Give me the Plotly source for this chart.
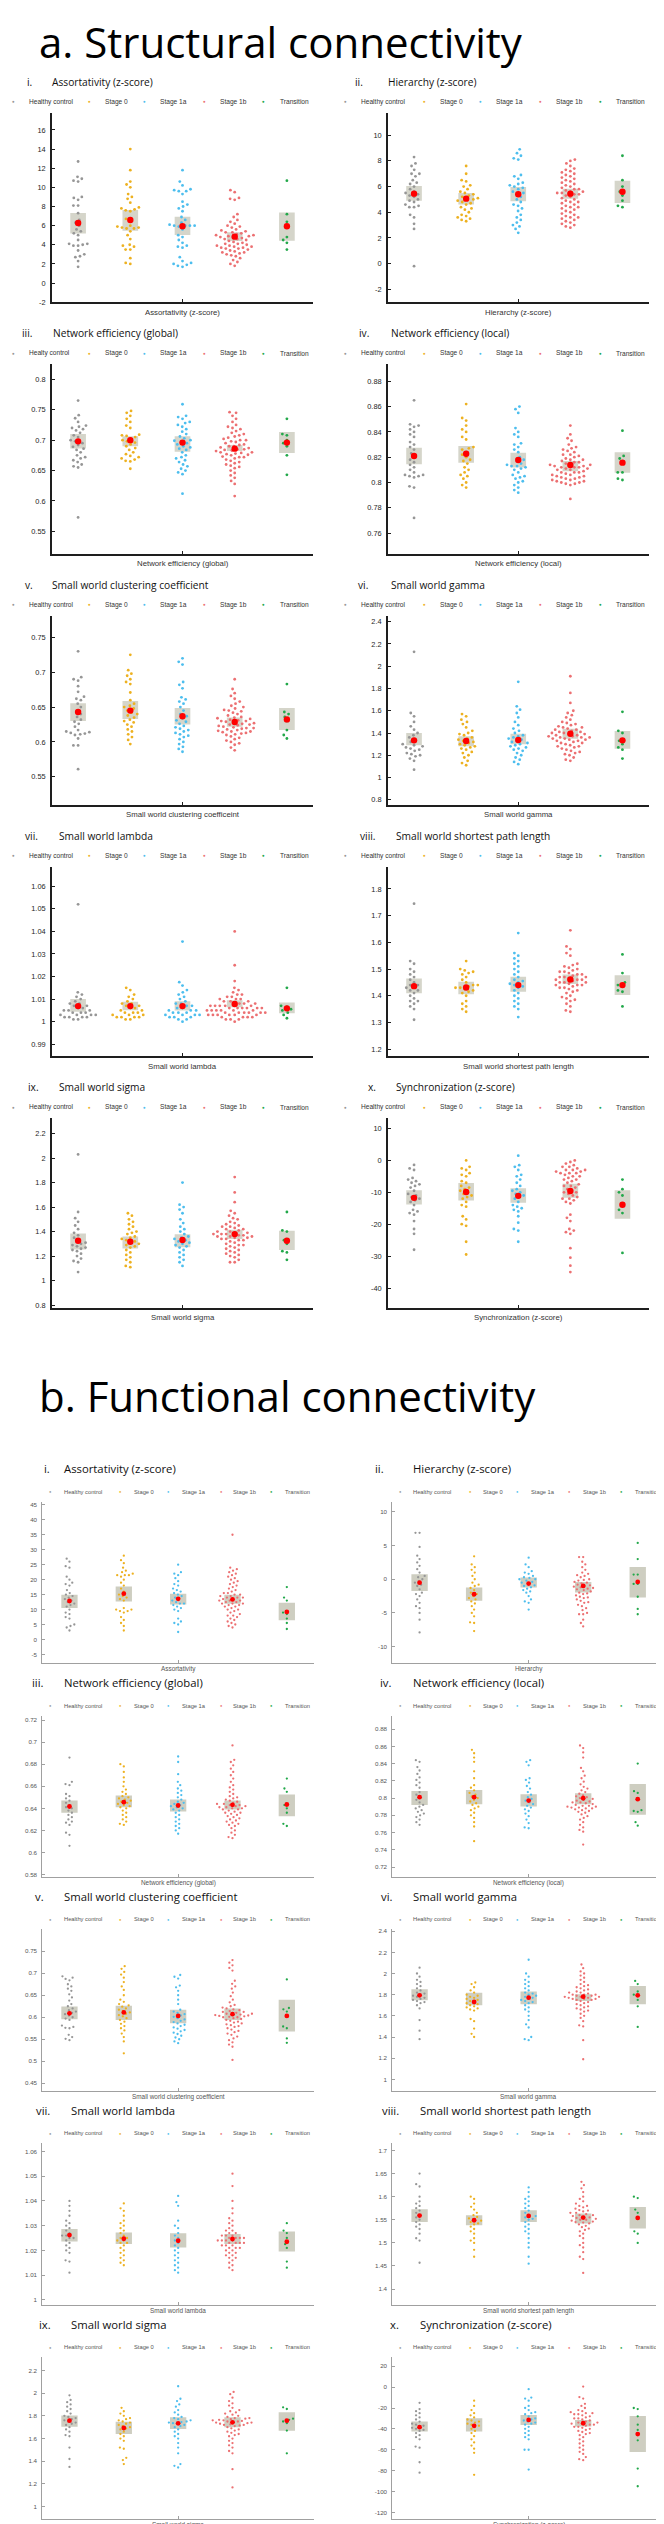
import math
import plotly.graph_objects as go

W, H = 664, 2524

GROUPS = ["Healthy control", "Stage 0", "Stage 1a", "Stage 1b", "Transition"]
GROUP_COLORS = ["#969696", "#EDB120", "#4DBEEE", "#EC7072", "#22A84A"]
GROUP_X = [1, 2, 3, 4, 5]

NUMERALS = ["i.", "ii.", "iii.", "iv.", "v.", "vi.", "vii.", "viii.", "ix.", "x."]
PANEL_TITLES = ["Assortativity (z-score)", "Hierarchy (z-score)", "Network efficiency (global)",
                "Network efficiency (local)", "Small world clustering coefficient", "Small world gamma",
                "Small world lambda", "Small world shortest path length", "Small world sigma",
                "Synchronization (z-score)"]
SC_XLABELS = ["Assortativity (z-score)", "Hierarchy (z-score)", "Network efficiency (global)",
              "Network efficiency (local)", "Small world clustering coefficeint", "Small world gamma",
              "Small world lambda", "Small world shortest path length", "Small world sigma",
              "Synchronization (z-score)"]
FC_XLABELS = ["Assortativity", "Hierarchy", "Network efficiency (global)", "Network efficiency (local)",
              "Small world clustering coefficient", "Small world gamma", "Small world lambda",
              "Small world shortest path length", "Small world sigma", "Synchronization (z-score)"]
SC_FIRST_LEGEND = ["Healthy control", "Healthy control", "Healty control", "Healthy control",
                   "Healthy control", "Healthy control", "Healthy control", "Healthy control",
                   "Healthy control", "Healthy control"]

# ---------------- Structural connectivity data ----------------
sc_assortativity = [
    [12.7, 11.1, 10.9, 10.7, 10.6, 9.0, 8.9, 8.7, 8.1, 8.1, 7.3, 6.6, 6.3, 6.0, 5.6, 5.4, 5.2, 5.0, 4.5, 4.1, 4.1, 4.0, 3.9, 3.9, 3.4, 3.0, 2.8, 2.7, 2.3, 1.7],
    [14.0, 11.8, 10.6, 10.3, 10.0, 9.3, 9.0, 8.8, 8.4, 7.9, 7.8, 7.7, 7.6, 7.5, 6.7, 6.5, 6.0, 5.9, 5.8, 5.8, 5.7, 5.7, 5.4, 5.0, 4.6, 4.0, 3.9, 3.8, 3.5, 3.5, 2.6, 2.1, 2.0],
    [11.8, 10.6, 10.2, 9.8, 9.7, 9.6, 9.6, 9.3, 8.5, 8.2, 8.0, 7.8, 7.5, 6.9, 6.6, 6.3, 6.1, 6.0, 6.0, 6.0, 6.0, 5.9, 5.6, 5.0, 4.8, 4.5, 4.2, 3.9, 3.8, 3.7, 2.7, 2.3, 2.1, 2.0, 1.9, 1.8, 1.7],
    [9.7, 9.5, 8.9, 8.8, 8.7, 7.2, 6.9, 6.6, 6.4, 6.2, 6.0, 5.9, 5.8, 5.6, 5.5, 5.4, 5.3, 5.3, 5.2, 5.1, 5.0, 5.0, 4.9, 4.9, 4.8, 4.8, 4.7, 4.6, 4.6, 4.5, 4.4, 4.3, 4.2, 4.1, 4.1, 4.0, 3.9, 3.9, 3.8, 3.8, 3.7, 3.7, 3.6, 3.6, 3.5, 3.4, 3.3, 3.2, 3.2, 3.1, 3.0, 2.9, 2.8, 2.6, 2.4, 2.2, 2.0, 1.8],
    [10.7, 7.2, 6.4, 5.8, 4.8, 4.5, 4.2, 3.5],
]
sc_hierarchy = [
    [8.3, 7.8, 7.6, 7.3, 7.0, 7.0, 6.8, 6.5, 6.3, 6.2, 6.0, 5.8, 5.6, 5.5, 5.4, 5.3, 5.2, 5.0, 4.9, 4.8, 4.6, 4.5, 4.4, 4.4, 3.8, 3.6, 3.1, 2.7, -0.2],
    [7.6, 7.0, 6.5, 6.4, 6.1, 6.0, 5.8, 5.6, 5.5, 5.4, 5.3, 5.2, 5.1, 5.0, 5.0, 4.9, 4.8, 4.7, 4.6, 4.4, 4.3, 4.2, 4.0, 3.8, 3.7, 3.6, 3.5, 3.4, 3.3],
    [8.9, 8.6, 8.4, 8.2, 8.1, 6.9, 6.8, 6.6, 6.3, 6.2, 6.1, 6.0, 5.9, 5.8, 5.6, 5.5, 5.4, 5.2, 5.0, 4.8, 4.6, 4.5, 4.3, 4.1, 3.8, 3.6, 3.4, 3.2, 3.0, 2.9, 2.7, 2.4],
    [8.1, 8.0, 7.8, 7.6, 7.4, 7.3, 7.2, 7.1, 7.0, 6.9, 6.8, 6.7, 6.6, 6.5, 6.4, 6.3, 6.2, 6.1, 6.0, 5.9, 5.8, 5.8, 5.7, 5.6, 5.6, 5.5, 5.5, 5.4, 5.4, 5.3, 5.2, 5.1, 5.0, 4.9, 4.8, 4.8, 4.7, 4.6, 4.5, 4.4, 4.4, 4.3, 4.2, 4.1, 4.0, 3.9, 3.8, 3.7, 3.6, 3.6, 3.5, 3.4, 3.3, 3.2, 3.1, 3.0, 2.9, 2.8],
    [8.4, 6.5, 6.0, 5.6, 5.3, 4.9, 4.5, 4.4],
]
sc_eff_global = [
    [0.765, 0.741, 0.736, 0.730, 0.724, 0.722, 0.720, 0.718, 0.716, 0.712, 0.708, 0.705, 0.700, 0.698, 0.695, 0.692, 0.689, 0.686, 0.684, 0.680, 0.675, 0.672, 0.670, 0.667, 0.664, 0.660, 0.657, 0.655, 0.573],
    [0.748, 0.745, 0.740, 0.735, 0.730, 0.724, 0.720, 0.709, 0.708, 0.707, 0.705, 0.703, 0.700, 0.698, 0.696, 0.693, 0.690, 0.687, 0.684, 0.680, 0.677, 0.674, 0.672, 0.670, 0.668, 0.666, 0.665, 0.653],
    [0.759, 0.740, 0.738, 0.735, 0.730, 0.728, 0.725, 0.722, 0.718, 0.714, 0.710, 0.706, 0.703, 0.700, 0.699, 0.697, 0.695, 0.693, 0.690, 0.688, 0.686, 0.684, 0.680, 0.675, 0.672, 0.670, 0.667, 0.664, 0.660, 0.657, 0.653, 0.650, 0.647, 0.644, 0.612],
    [0.746, 0.745, 0.740, 0.735, 0.730, 0.725, 0.722, 0.720, 0.718, 0.715, 0.712, 0.710, 0.708, 0.706, 0.704, 0.702, 0.700, 0.700, 0.698, 0.697, 0.695, 0.693, 0.692, 0.690, 0.690, 0.688, 0.687, 0.685, 0.685, 0.684, 0.683, 0.682, 0.680, 0.680, 0.679, 0.678, 0.677, 0.676, 0.675, 0.673, 0.672, 0.672, 0.670, 0.668, 0.666, 0.664, 0.662, 0.660, 0.658, 0.656, 0.654, 0.650, 0.646, 0.642, 0.638, 0.633, 0.628, 0.608],
    [0.735, 0.710, 0.708, 0.700, 0.695, 0.690, 0.675, 0.643],
]
sc_eff_local = [
    [0.865, 0.846, 0.845, 0.844, 0.842, 0.840, 0.838, 0.836, 0.832, 0.830, 0.828, 0.826, 0.823, 0.820, 0.818, 0.816, 0.814, 0.812, 0.810, 0.808, 0.806, 0.806, 0.805, 0.805, 0.804, 0.797, 0.796, 0.772],
    [0.862, 0.851, 0.849, 0.845, 0.842, 0.840, 0.836, 0.834, 0.828, 0.827, 0.826, 0.824, 0.822, 0.820, 0.818, 0.817, 0.815, 0.812, 0.810, 0.808, 0.806, 0.805, 0.803, 0.800, 0.798, 0.796],
    [0.860, 0.858, 0.855, 0.843, 0.840, 0.838, 0.836, 0.831, 0.830, 0.828, 0.826, 0.824, 0.820, 0.818, 0.817, 0.815, 0.814, 0.813, 0.813, 0.812, 0.811, 0.810, 0.808, 0.806, 0.805, 0.804, 0.803, 0.801, 0.800, 0.798, 0.796, 0.794, 0.792],
    [0.845, 0.838, 0.835, 0.833, 0.830, 0.828, 0.827, 0.826, 0.825, 0.824, 0.822, 0.822, 0.821, 0.820, 0.819, 0.818, 0.818, 0.817, 0.816, 0.816, 0.815, 0.814, 0.814, 0.814, 0.813, 0.813, 0.812, 0.812, 0.812, 0.811, 0.811, 0.810, 0.810, 0.809, 0.808, 0.808, 0.808, 0.807, 0.806, 0.806, 0.805, 0.805, 0.804, 0.804, 0.803, 0.803, 0.802, 0.802, 0.801, 0.801, 0.800, 0.800, 0.799, 0.799, 0.798, 0.787],
    [0.841, 0.821, 0.819, 0.816, 0.808, 0.808, 0.803, 0.802],
]
sc_sw_clustering = [
    [0.730, 0.693, 0.690, 0.688, 0.680, 0.672, 0.665, 0.662, 0.660, 0.655, 0.650, 0.645, 0.640, 0.636, 0.632, 0.629, 0.626, 0.622, 0.617, 0.615, 0.614, 0.613, 0.612, 0.611, 0.610, 0.605, 0.595, 0.595, 0.561],
    [0.725, 0.703, 0.698, 0.695, 0.690, 0.686, 0.683, 0.671, 0.660, 0.655, 0.652, 0.650, 0.648, 0.645, 0.642, 0.640, 0.638, 0.635, 0.632, 0.630, 0.628, 0.625, 0.622, 0.618, 0.615, 0.611, 0.607, 0.603, 0.597],
    [0.720, 0.715, 0.711, 0.686, 0.682, 0.677, 0.664, 0.661, 0.658, 0.655, 0.650, 0.645, 0.640, 0.637, 0.634, 0.631, 0.629, 0.626, 0.623, 0.621, 0.619, 0.617, 0.615, 0.613, 0.611, 0.609, 0.607, 0.604, 0.600, 0.597, 0.593, 0.590, 0.586],
    [0.690, 0.676, 0.670, 0.666, 0.662, 0.658, 0.655, 0.652, 0.650, 0.648, 0.646, 0.645, 0.644, 0.642, 0.640, 0.638, 0.636, 0.635, 0.634, 0.633, 0.632, 0.631, 0.630, 0.630, 0.629, 0.628, 0.627, 0.626, 0.625, 0.625, 0.624, 0.623, 0.622, 0.621, 0.620, 0.620, 0.619, 0.618, 0.617, 0.616, 0.615, 0.615, 0.614, 0.613, 0.612, 0.611, 0.610, 0.608, 0.606, 0.604, 0.602, 0.600, 0.598, 0.596, 0.592, 0.588],
    [0.683, 0.643, 0.640, 0.636, 0.630, 0.617, 0.610, 0.605],
]
sc_sw_gamma = [
    [2.13, 1.58, 1.55, 1.50, 1.46, 1.43, 1.40, 1.38, 1.36, 1.34, 1.32, 1.30, 1.29, 1.28, 1.27, 1.26, 1.25, 1.24, 1.22, 1.21, 1.20, 1.19, 1.17, 1.15, 1.07],
    [1.57, 1.55, 1.52, 1.50, 1.48, 1.45, 1.42, 1.40, 1.39, 1.38, 1.36, 1.35, 1.34, 1.33, 1.32, 1.31, 1.30, 1.29, 1.28, 1.27, 1.26, 1.25, 1.23, 1.22, 1.20, 1.18, 1.15, 1.13, 1.11],
    [1.86, 1.64, 1.61, 1.58, 1.54, 1.50, 1.47, 1.44, 1.42, 1.40, 1.38, 1.37, 1.36, 1.35, 1.34, 1.33, 1.32, 1.31, 1.30, 1.29, 1.28, 1.27, 1.26, 1.25, 1.24, 1.22, 1.20, 1.18, 1.16, 1.14, 1.12],
    [1.91, 1.76, 1.67, 1.60, 1.58, 1.56, 1.54, 1.52, 1.50, 1.49, 1.48, 1.47, 1.46, 1.45, 1.45, 1.44, 1.43, 1.43, 1.42, 1.41, 1.41, 1.40, 1.40, 1.39, 1.39, 1.38, 1.38, 1.37, 1.37, 1.36, 1.36, 1.36, 1.35, 1.35, 1.34, 1.34, 1.33, 1.33, 1.32, 1.31, 1.31, 1.30, 1.29, 1.28, 1.28, 1.27, 1.26, 1.25, 1.24, 1.23, 1.22, 1.21, 1.20, 1.18, 1.16, 1.15],
    [1.59, 1.42, 1.40, 1.33, 1.30, 1.27, 1.25, 1.17],
]
sc_sw_lambda = [
    [1.052, 1.013, 1.012, 1.011, 1.010, 1.009, 1.008, 1.008, 1.007, 1.007, 1.006, 1.006, 1.005, 1.005, 1.005, 1.004, 1.004, 1.004, 1.003, 1.003, 1.003, 1.003, 1.002, 1.002, 1.002, 1.002, 1.001, 1.001],
    [1.015, 1.014, 1.012, 1.011, 1.010, 1.009, 1.008, 1.008, 1.007, 1.007, 1.006, 1.006, 1.005, 1.005, 1.004, 1.004, 1.004, 1.003, 1.003, 1.003, 1.002, 1.002, 1.002, 1.002, 1.001, 1.001],
    [1.0355, 1.0175, 1.016, 1.014, 1.013, 1.012, 1.011, 1.010, 1.009, 1.008, 1.008, 1.007, 1.007, 1.006, 1.006, 1.005, 1.005, 1.005, 1.004, 1.004, 1.004, 1.003, 1.003, 1.003, 1.003, 1.002, 1.002, 1.002, 1.001, 1.001, 1.000],
    [1.040, 1.025, 1.018, 1.015, 1.014, 1.013, 1.012, 1.012, 1.011, 1.011, 1.010, 1.010, 1.010, 1.009, 1.009, 1.009, 1.008, 1.008, 1.008, 1.008, 1.007, 1.007, 1.007, 1.007, 1.007, 1.006, 1.006, 1.006, 1.006, 1.006, 1.006, 1.005, 1.005, 1.005, 1.005, 1.005, 1.005, 1.004, 1.004, 1.004, 1.004, 1.004, 1.004, 1.003, 1.003, 1.003, 1.003, 1.003, 1.003, 1.002, 1.002, 1.002, 1.002, 1.001, 1.001, 1.001, 1.000],
    [1.015, 1.007, 1.0065, 1.0055, 1.005, 1.004, 1.003, 1.0015],
]
sc_sw_path = [
    [1.745, 1.53, 1.52, 1.50, 1.49, 1.48, 1.47, 1.46, 1.45, 1.44, 1.44, 1.43, 1.43, 1.42, 1.42, 1.41, 1.40, 1.39, 1.38, 1.38, 1.37, 1.36, 1.35, 1.31],
    [1.53, 1.50, 1.495, 1.49, 1.485, 1.48, 1.47, 1.46, 1.45, 1.44, 1.44, 1.435, 1.43, 1.43, 1.425, 1.42, 1.415, 1.41, 1.40, 1.38, 1.37, 1.36, 1.35, 1.34],
    [1.635, 1.56, 1.55, 1.54, 1.53, 1.52, 1.51, 1.50, 1.49, 1.48, 1.47, 1.46, 1.455, 1.45, 1.445, 1.44, 1.435, 1.43, 1.42, 1.41, 1.40, 1.39, 1.38, 1.37, 1.36, 1.35, 1.32],
    [1.645, 1.585, 1.575, 1.56, 1.55, 1.52, 1.515, 1.51, 1.505, 1.50, 1.495, 1.49, 1.49, 1.485, 1.48, 1.48, 1.475, 1.47, 1.47, 1.47, 1.465, 1.46, 1.46, 1.46, 1.455, 1.45, 1.45, 1.45, 1.445, 1.44, 1.44, 1.44, 1.435, 1.43, 1.43, 1.425, 1.42, 1.415, 1.41, 1.40, 1.395, 1.39, 1.385, 1.38, 1.37, 1.36, 1.345, 1.34],
    [1.555, 1.485, 1.45, 1.44, 1.435, 1.42, 1.415, 1.36],
]
sc_sw_sigma = [
    [2.03, 1.56, 1.51, 1.48, 1.45, 1.42, 1.39, 1.37, 1.35, 1.33, 1.31, 1.30, 1.29, 1.28, 1.27, 1.26, 1.25, 1.24, 1.22, 1.20, 1.18, 1.16, 1.15, 1.07],
    [1.55, 1.53, 1.50, 1.48, 1.46, 1.44, 1.42, 1.40, 1.39, 1.38, 1.36, 1.35, 1.34, 1.33, 1.32, 1.31, 1.30, 1.29, 1.28, 1.27, 1.25, 1.23, 1.21, 1.19, 1.17, 1.15, 1.12, 1.11],
    [1.80, 1.62, 1.60, 1.58, 1.55, 1.50, 1.47, 1.44, 1.42, 1.40, 1.38, 1.36, 1.35, 1.34, 1.33, 1.32, 1.31, 1.30, 1.29, 1.28, 1.27, 1.25, 1.23, 1.21, 1.19, 1.17, 1.15, 1.12],
    [1.845, 1.72, 1.64, 1.57, 1.55, 1.53, 1.51, 1.50, 1.48, 1.47, 1.46, 1.45, 1.44, 1.44, 1.43, 1.42, 1.42, 1.41, 1.40, 1.40, 1.39, 1.39, 1.38, 1.38, 1.38, 1.37, 1.37, 1.36, 1.36, 1.36, 1.35, 1.35, 1.34, 1.34, 1.33, 1.33, 1.32, 1.31, 1.30, 1.29, 1.29, 1.28, 1.27, 1.26, 1.25, 1.24, 1.23, 1.22, 1.21, 1.20, 1.19, 1.17, 1.15, 1.15],
    [1.56, 1.41, 1.40, 1.33, 1.30, 1.24, 1.23, 1.17],
]
sc_synchronization = [
    [-1.4, -2.5, -3.0, -5.5, -6.0, -6.5, -7.0, -7.5, -8.0, -8.5, -9.5, -10.5, -11.0, -11.5, -12.0, -12.5, -13.0, -14.0, -15.5, -16.0, -16.5, -17.0, -19.0, -21.5, -23.0, -28.0],
    [0.0, -2.0, -2.5, -3.0, -4.0, -4.5, -5.0, -6.5, -7.0, -8.0, -8.5, -9.0, -9.5, -10.0, -10.5, -11.0, -11.5, -12.0, -13.0, -14.0, -14.5, -17.5, -18.5, -20.0, -20.5, -25.5, -29.5],
    [1.5, -1.5, -2.0, -3.0, -4.5, -5.0, -6.0, -7.0, -8.0, -9.0, -9.5, -10.0, -10.5, -11.0, -11.5, -12.0, -13.0, -14.0, -14.5, -15.0, -15.5, -16.0, -17.5, -19.5, -21.5, -22.0, -25.5],
    [0.0, -0.5, -1.0, -1.5, -2.0, -2.0, -2.5, -3.0, -3.0, -3.0, -3.5, -3.5, -4.0, -4.0, -4.0, -4.5, -5.0, -5.0, -5.5, -6.0, -6.0, -6.5, -7.0, -7.5, -8.0, -8.0, -8.5, -9.0, -9.5, -10.0, -10.0, -10.5, -11.0, -11.5, -12.0, -12.0, -12.5, -13.0, -13.5, -17.0, -18.0, -19.0, -21.5, -22.0, -22.5, -23.0, -27.5, -30.5, -33.0, -35.0],
    [-6.0, -9.0, -10.0, -11.0, -13.5, -15.5, -16.5, -29.0],
]

SC_DATA = [sc_assortativity, sc_hierarchy, sc_eff_global, sc_eff_local, sc_sw_clustering,
           sc_sw_gamma, sc_sw_lambda, sc_sw_path, sc_sw_sigma, sc_synchronization]

sc_means = [
    [6.27, 6.59, 5.93, 4.85, 5.93],
    [5.45, 5.06, 5.40, 5.45, 5.60],
    [0.698, 0.700, 0.696, 0.686, 0.696],
    [0.821, 0.8227, 0.8178, 0.8139, 0.8157],
    [0.643, 0.645, 0.637, 0.6286, 0.6324],
    [1.334, 1.328, 1.337, 1.393, 1.334],
    [1.0069, 1.0069, 1.0069, 1.0078, 1.0059],
    [1.436, 1.431, 1.440, 1.461, 1.440],
    [1.3255, 1.317, 1.331, 1.3795, 1.3255],
    [-11.74, -9.88, -11.1, -9.57, -13.9],
]
sc_ci_low = [
    [5.19, 5.47, 5.02, 4.40, 4.43],
    [4.90, 4.60, 4.86, 5.06, 4.73],
    [0.6864, 0.690, 0.681, 0.682, 0.679],
    [0.8144, 0.8157, 0.8118, 0.809, 0.8078],
    [0.630, 0.633, 0.625, 0.622, 0.617],
    [1.289, 1.280, 1.298, 1.348, 1.259],
    [1.0044, 1.0051, 1.0049, 1.0064, 1.0037],
    [1.409, 1.406, 1.415, 1.444, 1.4025],
    [1.253, 1.263, 1.272, 1.3405, 1.250],
    [-13.8, -12.57, -13.3, -11.74, -18.26],
]
sc_ci_high = [
    [7.31, 7.63, 6.93, 5.30, 7.38],
    [6.04, 5.50, 5.96, 5.84, 6.45],
    [0.7103, 0.7065, 0.7065, 0.692, 0.7136],
    [0.8275, 0.8288, 0.8235, 0.817, 0.824],
    [0.6557, 0.6586, 0.6486, 0.635, 0.6486],
    [1.399, 1.370, 1.393, 1.4375, 1.417],
    [1.0100, 1.0088, 1.0091, 1.0095, 1.0085],
    [1.4646, 1.452, 1.471, 1.480, 1.477],
    [1.385, 1.361, 1.379, 1.415, 1.4065],
    [-9.36, -7.08, -8.74, -7.29, -9.36],
]
sc_yrange = [[-2, 17.8], [-3, 11.75], [0.5135, 0.825], [0.7438, 0.8936], [0.5096, 0.7814],
             [0.753, 2.456], [0.9846, 1.0686], [1.1728, 1.8827], [0.778, 2.325], [-46.2, 13.2]]
sc_yticks = [
    [-2, 0, 2, 4, 6, 8, 10, 12, 14, 16],
    [-2, 0, 2, 4, 6, 8, 10],
    [0.55, 0.6, 0.65, 0.7, 0.75, 0.8],
    [0.76, 0.78, 0.8, 0.82, 0.84, 0.86, 0.88],
    [0.55, 0.6, 0.65, 0.7, 0.75],
    [0.8, 1, 1.2, 1.4, 1.6, 1.8, 2, 2.2, 2.4],
    [0.99, 1, 1.01, 1.02, 1.03, 1.04, 1.05, 1.06],
    [1.2, 1.3, 1.4, 1.5, 1.6, 1.7, 1.8],
    [0.8, 1, 1.2, 1.4, 1.6, 1.8, 2, 2.2],
    [-40, -30, -20, -10, 0, 10],
]

# ---------------- Functional connectivity data ----------------
fc_assortativity = [
    [27.0, 26.0, 24.5, 24.0, 21.0, 20.0, 19.0, 18.5, 18.0, 16.5, 15.5, 15.0, 14.5, 14.0, 13.5, 13.0, 12.5, 12.0, 11.5, 11.0, 10.0, 9.0, 8.5, 7.5, 7.0, 5.0, 4.5, 4.0, 3.0],
    [28.0, 26.5, 25.5, 24.0, 23.0, 22.5, 22.0, 21.5, 21.5, 21.5, 21.0, 20.0, 19.0, 18.0, 17.0, 16.0, 15.0, 14.5, 14.0, 13.5, 13.0, 10.5, 10.0, 10.0, 9.5, 9.5, 9.0, 7.5, 6.5, 5.5, 4.5, 3.0],
    [25.0, 22.5, 22.0, 21.5, 20.5, 19.5, 18.5, 18.0, 17.0, 16.5, 16.0, 15.5, 15.0, 14.5, 14.0, 13.5, 13.0, 12.5, 12.0, 12.0, 11.5, 11.0, 10.5, 10.0, 9.5, 7.0, 6.0, 5.5, 5.0, 2.5],
    [35.0, 24.0, 23.5, 23.0, 22.5, 22.0, 21.5, 21.0, 20.5, 20.0, 19.5, 19.0, 18.5, 18.0, 17.5, 17.0, 16.5, 16.0, 15.5, 15.5, 15.0, 15.0, 14.5, 14.5, 14.0, 14.0, 14.0, 13.5, 13.5, 13.0, 13.0, 13.0, 12.5, 12.5, 12.0, 12.0, 12.0, 11.5, 11.5, 11.0, 11.0, 10.5, 10.0, 10.0, 9.5, 9.0, 8.5, 8.0, 8.0, 7.5, 7.0, 6.5, 6.0, 5.5, 5.0, 4.5, 4.0],
    [17.5, 14.0, 13.0, 9.0, 8.5, 7.0, 5.5, 3.5],
]
fc_hierarchy = [
    [6.9, 6.9, 4.8, 3.5, 3.0, 2.5, 2.0, 1.5, 1.0, 0.5, 0.3, 0.0, -0.3, -0.5, -0.8, -1.0, -1.5, -2.0, -2.2, -2.5, -3.0, -3.5, -4.0, -4.3, -5.0, -6.0, -7.9],
    [3.4, 2.2, 1.8, 1.4, 1.0, 0.5, 0.0, -0.5, -0.8, -1.0, -1.3, -1.6, -2.0, -2.2, -2.5, -2.8, -3.0, -3.3, -3.6, -4.0, -4.5, -5.0, -5.5, -6.4, -6.5, -7.7],
    [3.2, 2.2, 1.8, 1.2, 1.0, 0.8, 0.5, 0.3, 0.2, 0.0, 0.0, -0.2, -0.4, -0.5, -0.7, -0.9, -1.0, -1.2, -1.4, -1.6, -1.8, -2.0, -2.5, -3.0, -3.3, -3.5, -4.5],
    [3.3, 3.3, 2.6, 2.2, 1.8, 1.4, 1.0, 0.8, 0.6, 0.5, 0.3, 0.0, -0.1, -0.2, -0.4, -0.5, -0.6, -0.8, -0.9, -1.0, -1.1, -1.2, -1.3, -1.4, -1.5, -1.6, -1.8, -2.0, -2.1, -2.2, -2.4, -2.6, -2.7, -2.8, -3.0, -3.2, -3.4, -3.5, -3.8, -4.0, -4.3, -4.6, -5.0, -5.2, -5.2, -6.0, -6.5, -7.0],
    [5.4, 3.0, 0.7, 0.7, -0.7, -0.7, -2.6, -4.4, -5.2],
]
fc_eff_global = [
    [0.686, 0.664, 0.662, 0.661, 0.653, 0.651, 0.649, 0.647, 0.645, 0.643, 0.641, 0.640, 0.638, 0.636, 0.634, 0.632, 0.630, 0.628, 0.627, 0.625, 0.618, 0.616, 0.606],
    [0.680, 0.678, 0.673, 0.668, 0.664, 0.660, 0.657, 0.655, 0.653, 0.651, 0.650, 0.649, 0.648, 0.647, 0.646, 0.645, 0.644, 0.643, 0.642, 0.641, 0.640, 0.638, 0.636, 0.634, 0.632, 0.630, 0.628, 0.626, 0.625],
    [0.687, 0.682, 0.671, 0.664, 0.661, 0.658, 0.656, 0.654, 0.652, 0.650, 0.648, 0.646, 0.645, 0.644, 0.643, 0.642, 0.641, 0.640, 0.639, 0.638, 0.636, 0.634, 0.632, 0.630, 0.628, 0.626, 0.624, 0.622, 0.620, 0.617],
    [0.697, 0.684, 0.682, 0.679, 0.676, 0.673, 0.670, 0.667, 0.664, 0.661, 0.659, 0.657, 0.655, 0.653, 0.651, 0.650, 0.649, 0.648, 0.647, 0.646, 0.645, 0.644, 0.644, 0.643, 0.643, 0.642, 0.642, 0.641, 0.641, 0.640, 0.640, 0.639, 0.639, 0.638, 0.637, 0.636, 0.636, 0.635, 0.634, 0.633, 0.632, 0.631, 0.630, 0.629, 0.628, 0.627, 0.626, 0.625, 0.624, 0.622, 0.620, 0.618, 0.616, 0.614, 0.613],
    [0.667, 0.658, 0.655, 0.643, 0.640, 0.636, 0.626, 0.624],
]
fc_eff_local = [
    [0.844, 0.842, 0.836, 0.832, 0.828, 0.824, 0.821, 0.818, 0.815, 0.812, 0.807, 0.804, 0.801, 0.798, 0.795, 0.792, 0.790, 0.788, 0.786, 0.784, 0.782, 0.780, 0.778, 0.775, 0.772, 0.769],
    [0.856, 0.852, 0.847, 0.842, 0.831, 0.823, 0.815, 0.812, 0.809, 0.806, 0.804, 0.802, 0.800, 0.798, 0.796, 0.794, 0.792, 0.790, 0.788, 0.786, 0.783, 0.780, 0.777, 0.772, 0.767, 0.750],
    [0.844, 0.842, 0.838, 0.823, 0.821, 0.818, 0.814, 0.811, 0.807, 0.804, 0.801, 0.799, 0.797, 0.795, 0.793, 0.791, 0.789, 0.787, 0.785, 0.782, 0.779, 0.775, 0.771, 0.766, 0.765],
    [0.861, 0.858, 0.853, 0.847, 0.835, 0.831, 0.826, 0.823, 0.819, 0.816, 0.813, 0.811, 0.809, 0.807, 0.805, 0.803, 0.802, 0.801, 0.800, 0.799, 0.798, 0.797, 0.796, 0.795, 0.795, 0.794, 0.793, 0.792, 0.791, 0.791, 0.790, 0.790, 0.789, 0.789, 0.788, 0.788, 0.787, 0.786, 0.785, 0.784, 0.783, 0.781, 0.779, 0.777, 0.775, 0.772, 0.769, 0.766, 0.763, 0.761, 0.746],
    [0.840, 0.808, 0.806, 0.786, 0.785, 0.784, 0.772, 0.768],
]
fc_sw_clustering = [
    [0.693, 0.690, 0.687, 0.684, 0.675, 0.670, 0.665, 0.660, 0.652, 0.645, 0.638, 0.630, 0.625, 0.620, 0.616, 0.613, 0.610, 0.607, 0.604, 0.600, 0.597, 0.594, 0.581, 0.578, 0.576, 0.575, 0.560, 0.555, 0.551, 0.548],
    [0.716, 0.710, 0.703, 0.697, 0.690, 0.680, 0.670, 0.662, 0.650, 0.640, 0.635, 0.630, 0.627, 0.624, 0.620, 0.617, 0.614, 0.611, 0.608, 0.605, 0.602, 0.598, 0.594, 0.590, 0.585, 0.580, 0.575, 0.570, 0.563, 0.555, 0.545, 0.518],
    [0.696, 0.692, 0.688, 0.672, 0.668, 0.660, 0.650, 0.640, 0.630, 0.617, 0.613, 0.610, 0.607, 0.604, 0.601, 0.598, 0.595, 0.592, 0.589, 0.586, 0.583, 0.580, 0.577, 0.574, 0.571, 0.568, 0.565, 0.562, 0.558, 0.554, 0.550, 0.545, 0.541],
    [0.730, 0.724, 0.718, 0.712, 0.706, 0.683, 0.676, 0.670, 0.665, 0.656, 0.648, 0.640, 0.634, 0.628, 0.625, 0.622, 0.620, 0.618, 0.616, 0.614, 0.612, 0.612, 0.610, 0.608, 0.608, 0.607, 0.606, 0.605, 0.604, 0.603, 0.602, 0.601, 0.600, 0.600, 0.598, 0.596, 0.594, 0.592, 0.590, 0.588, 0.586, 0.584, 0.582, 0.580, 0.578, 0.575, 0.572, 0.569, 0.566, 0.563, 0.560, 0.556, 0.552, 0.548, 0.543, 0.538, 0.533, 0.503],
    [0.686, 0.621, 0.618, 0.613, 0.579, 0.575, 0.552, 0.542],
]
fc_sw_gamma = [
    [2.055, 2.00, 1.97, 1.94, 1.92, 1.90, 1.88, 1.86, 1.84, 1.82, 1.81, 1.80, 1.79, 1.78, 1.77, 1.76, 1.75, 1.74, 1.73, 1.72, 1.70, 1.67, 1.56, 1.46, 1.38],
    [1.915, 1.90, 1.87, 1.84, 1.82, 1.80, 1.79, 1.78, 1.77, 1.76, 1.75, 1.74, 1.73, 1.72, 1.71, 1.70, 1.69, 1.68, 1.67, 1.66, 1.65, 1.57, 1.55, 1.48, 1.43, 1.40],
    [2.13, 2.00, 1.97, 1.94, 1.92, 1.90, 1.88, 1.86, 1.84, 1.82, 1.81, 1.80, 1.79, 1.78, 1.77, 1.76, 1.75, 1.74, 1.73, 1.72, 1.70, 1.68, 1.66, 1.64, 1.60, 1.56, 1.52, 1.49, 1.40, 1.38, 1.37],
    [2.085, 2.05, 2.02, 2.00, 1.98, 1.96, 1.94, 1.92, 1.90, 1.89, 1.88, 1.87, 1.86, 1.85, 1.84, 1.83, 1.82, 1.82, 1.81, 1.80, 1.80, 1.80, 1.79, 1.79, 1.78, 1.78, 1.78, 1.77, 1.77, 1.76, 1.76, 1.76, 1.75, 1.75, 1.74, 1.73, 1.72, 1.71, 1.70, 1.69, 1.68, 1.67, 1.66, 1.65, 1.64, 1.62, 1.60, 1.58, 1.55, 1.51, 1.50, 1.37, 1.19],
    [1.93, 1.90, 1.83, 1.80, 1.79, 1.75, 1.69, 1.495],
]
fc_sw_lambda = [
    [1.040, 1.038, 1.036, 1.034, 1.032, 1.031, 1.030, 1.029, 1.028, 1.027, 1.026, 1.026, 1.025, 1.025, 1.024, 1.023, 1.022, 1.021, 1.020, 1.019, 1.016, 1.0155, 1.011],
    [1.039, 1.037, 1.036, 1.034, 1.032, 1.031, 1.030, 1.029, 1.028, 1.027, 1.026, 1.025, 1.025, 1.024, 1.024, 1.023, 1.023, 1.022, 1.021, 1.020, 1.019, 1.018, 1.017, 1.016, 1.015, 1.014],
    [1.042, 1.0395, 1.038, 1.032, 1.030, 1.029, 1.027, 1.026, 1.025, 1.024, 1.023, 1.022, 1.021, 1.020, 1.019, 1.018, 1.017, 1.016, 1.015, 1.014, 1.013, 1.012, 1.011],
    [1.051, 1.046, 1.040, 1.037, 1.035, 1.033, 1.032, 1.031, 1.030, 1.029, 1.028, 1.028, 1.027, 1.027, 1.026, 1.026, 1.026, 1.025, 1.025, 1.025, 1.025, 1.024, 1.024, 1.024, 1.024, 1.023, 1.023, 1.023, 1.023, 1.022, 1.022, 1.022, 1.021, 1.021, 1.021, 1.020, 1.020, 1.019, 1.019, 1.018, 1.018, 1.017, 1.017, 1.016, 1.015, 1.014, 1.013, 1.012],
    [1.031, 1.028, 1.027, 1.025, 1.0225, 1.021, 1.0155, 1.013],
]
fc_sw_path = [
    [1.65, 1.627, 1.622, 1.60, 1.59, 1.585, 1.58, 1.575, 1.57, 1.565, 1.56, 1.555, 1.55, 1.545, 1.54, 1.535, 1.53, 1.52, 1.51, 1.505, 1.457],
    [1.60, 1.595, 1.585, 1.578, 1.572, 1.565, 1.56, 1.556, 1.553, 1.55, 1.548, 1.545, 1.542, 1.54, 1.535, 1.53, 1.525, 1.52, 1.51, 1.505, 1.50, 1.485, 1.47],
    [1.62, 1.61, 1.60, 1.595, 1.59, 1.585, 1.58, 1.575, 1.57, 1.565, 1.56, 1.558, 1.555, 1.552, 1.55, 1.545, 1.54, 1.535, 1.53, 1.525, 1.52, 1.51, 1.50, 1.49, 1.47, 1.455],
    [1.632, 1.625, 1.618, 1.61, 1.60, 1.595, 1.59, 1.585, 1.58, 1.58, 1.577, 1.574, 1.571, 1.57, 1.568, 1.565, 1.565, 1.562, 1.56, 1.56, 1.558, 1.556, 1.555, 1.554, 1.552, 1.55, 1.55, 1.548, 1.546, 1.545, 1.544, 1.542, 1.54, 1.537, 1.534, 1.531, 1.528, 1.525, 1.52, 1.515, 1.51, 1.50, 1.495, 1.49, 1.48, 1.47, 1.465, 1.435],
    [1.60, 1.597, 1.572, 1.565, 1.555, 1.525, 1.52, 1.50],
]
fc_sw_sigma = [
    [1.98, 1.94, 1.92, 1.90, 1.88, 1.86, 1.84, 1.82, 1.80, 1.79, 1.78, 1.77, 1.76, 1.75, 1.74, 1.73, 1.72, 1.70, 1.68, 1.66, 1.63, 1.62, 1.52, 1.42, 1.35],
    [1.87, 1.84, 1.82, 1.80, 1.78, 1.77, 1.76, 1.75, 1.74, 1.73, 1.72, 1.71, 1.70, 1.69, 1.68, 1.66, 1.64, 1.62, 1.60, 1.58, 1.52, 1.51, 1.43, 1.41, 1.375],
    [2.06, 1.95, 1.93, 1.90, 1.88, 1.85, 1.83, 1.81, 1.79, 1.78, 1.77, 1.76, 1.75, 1.745, 1.74, 1.735, 1.73, 1.72, 1.71, 1.70, 1.68, 1.66, 1.64, 1.62, 1.60, 1.56, 1.52, 1.47, 1.375, 1.36, 1.345],
    [2.01, 1.99, 1.96, 1.93, 1.91, 1.89, 1.87, 1.85, 1.84, 1.83, 1.82, 1.81, 1.80, 1.79, 1.78, 1.78, 1.775, 1.77, 1.765, 1.76, 1.76, 1.755, 1.75, 1.75, 1.745, 1.74, 1.74, 1.735, 1.73, 1.725, 1.72, 1.72, 1.715, 1.71, 1.70, 1.69, 1.68, 1.67, 1.66, 1.65, 1.64, 1.63, 1.62, 1.60, 1.58, 1.56, 1.54, 1.52, 1.49, 1.47, 1.33, 1.17],
    [1.875, 1.86, 1.775, 1.765, 1.75, 1.735, 1.67, 1.47],
]
fc_synchronization = [
    [-15, -21, -23, -25, -27, -29, -31, -33, -35, -36, -37, -38, -39, -40, -41, -42, -44, -46, -48, -50, -57, -58, -72, -82],
    [-13, -18, -22, -25, -27, -29, -31, -32, -33, -34, -35, -36, -37, -38, -40, -42, -44, -47, -50, -53, -56, -59, -63, -84],
    [-2, -10, -11, -13, -18, -20, -22, -24, -25, -26, -28, -30, -31, -32, -33, -34, -35, -36, -38, -40, -42, -44, -46, -48, -50, -60, -60, -79],
    [0.5, -9.5, -11, -16, -18, -20, -22, -23, -24, -25, -25, -26, -26, -27, -28, -29, -30, -30, -31, -32, -33, -34, -34, -35, -35, -36, -36, -37, -38, -38, -39, -40, -41, -42, -43, -44, -45, -46, -48, -50, -52, -54, -56, -58, -60, -62, -64, -67, -69, -70],
    [-20, -21, -28, -36, -41, -51, -78, -95],
]

FC_DATA = [fc_assortativity, fc_hierarchy, fc_eff_global, fc_eff_local, fc_sw_clustering,
           fc_sw_gamma, fc_sw_lambda, fc_sw_path, fc_sw_sigma, fc_synchronization]

fc_means = [
    [12.85, 15.3, 13.6, 13.4, 9.2],
    [-0.5, -2.23, -0.64, -0.99, -0.4],
    [0.6417, 0.6456, 0.6426, 0.6432, 0.6435],
    [0.801, 0.801, 0.7971, 0.7998, 0.7987],
    [0.609, 0.611, 0.603, 0.607, 0.603],
    [1.794, 1.731, 1.772, 1.781, 1.794],
    [1.0262, 1.0247, 1.0239, 1.0246, 1.0235],
    [1.559, 1.549, 1.5583, 1.5547, 1.554],
    [1.7575, 1.6926, 1.734, 1.7428, 1.7575],
    [-38.4, -37.1, -31.4, -34.6, -45.0],
]
fc_ci_low = [
    [10.5, 12.7, 11.7, 11.96, 6.4],
    [-1.73, -3.2, -1.24, -1.98, -2.72],
    [0.636, 0.6411, 0.6372, 0.639, 0.6329],
    [0.7921, 0.7929, 0.7902, 0.7929, 0.7806],
    [0.5955, 0.594, 0.5864, 0.594, 0.5674],
    [1.747, 1.700, 1.709, 1.740, 1.709],
    [1.0236, 1.0226, 1.0212, 1.0226, 1.0196],
    [1.5453, 1.538, 1.5453, 1.5417, 1.531],
    [1.7044, 1.6395, 1.6838, 1.6985, 1.669],
    [-42.5, -42.5, -36.2, -37.8, -62.2],
]
fc_ci_high = [
    [14.96, 17.7, 15.3, 14.96, 12.3],
    [0.74, -1.24, 0.25, -0.4, 1.83],
    [0.6471, 0.6517, 0.648, 0.6471, 0.6526],
    [0.8083, 0.8095, 0.8045, 0.8056, 0.8164],
    [0.6244, 0.626, 0.6169, 0.620, 0.6397],
    [1.851, 1.819, 1.829, 1.803, 1.882],
    [1.0286, 1.0272, 1.0269, 1.0266, 1.0276],
    [1.5727, 1.5597, 1.5705, 1.5633, 1.5777],
    [1.8018, 1.7487, 1.787, 1.787, 1.8313],
    [-33.0, -29.8, -26.7, -31.4, -27.6],
]
fc_yrange = [[-8, 46], [-12.5, 11.5], [0.5776, 0.724], [0.7082, 0.8956], [0.4324, 0.7995],
             [0.89, 2.416], [0.998, 1.0633], [1.366, 1.7155], [0.895, 2.317], [-126, 28.8]]
fc_yticks = [
    [-5, 0, 5, 10, 15, 20, 25, 30, 35, 40, 45],
    [-10, -5, 0, 5, 10],
    [0.58, 0.6, 0.62, 0.64, 0.66, 0.68, 0.7, 0.72],
    [0.72, 0.74, 0.76, 0.78, 0.8, 0.82, 0.84, 0.86, 0.88],
    [0.45, 0.5, 0.55, 0.6, 0.65, 0.7, 0.75],
    [1, 1.2, 1.4, 1.6, 1.8, 2, 2.2, 2.4],
    [1, 1.01, 1.02, 1.03, 1.04, 1.05, 1.06],
    [1.4, 1.45, 1.5, 1.55, 1.6, 1.65, 1.7],
    [1, 1.2, 1.4, 1.6, 1.8, 2, 2.2],
    [-120, -100, -80, -60, -40, -20, 0, 20],
]

# ---------------- layout / style ----------------
SC_STYLE = dict(
    L0=92.0, pitch=252.1, top=11, bottom=201, title_dy=-20, xlabel_dy=211,
    cols=[(44.0, 305.0), (380.0, 640.5)],
    num_x=[17, 344.5, 11.7, 348.7, 14.8, 348.3, 14.8, 349.6, 17.8, 358],
    title_x=[42.4, 378.4, 42.7, 381.3, 42.4, 380.5, 48.7, 386.4, 48.7, 386.4],
    leg_dot=[[5, 81, 136.5, 196, 255.5], [337, 416, 472, 532, 592]],
    leg_txt=[[19, 94.5, 150, 210, 270], [351, 430, 486, 546, 606]],
    title_size=10.2, leg_size=6.6, tick_size=7.4, xlabel_size=7.8,
    axis_color="#1e1e1e", axis_width=1.8, tick_color="#262626", label_color="#333333",
    box_color="rgb(213,213,202)", pt_size=2.8, mean_size=6.4, dot_gap=4.7, leg_dot_size=4.5,
)
FC_STYLE = dict(
    L0=1486.0, pitch=214.4, top=10, bottom=172, title_dy=-23, xlabel_dy=178,
    cols=[(34.3, 306.0), (384.3, 657.0)],
    num_x=[34, 365, 21.7, 370.3, 25.4, 370.8, 26.3, 371.6, 28.8, 380],
    title_x=[54.2, 402.5, 54.3, 403, 54.2, 402.5, 61.4, 409.7, 61.4, 409.7],
    leg_dot=[[42, 112.3, 160.5, 213, 263.5], [392, 462, 509.5, 561, 613.3]],
    leg_txt=[[53.5, 124, 171.7, 223.3, 275], [402.7, 473, 521, 573, 624.7]],
    title_size=11.3, leg_size=5.75, tick_size=6.2, xlabel_size=6.4,
    axis_color="#a0a0a0", axis_width=1.0, tick_color="#555555", label_color="#555555",
    box_color="rgb(206,206,193)", pt_size=2.3, mean_size=4.8, dot_gap=4.1, leg_dot_size=4,
)

TITLE_FONT = "Open Sans"
TEXT_FONT = "Liberation Sans"


def swarm_offsets(vals, ppu_y, ppu_x, d):
    idx = sorted(range(len(vals)), key=lambda i: vals[i])
    placed = []
    offs = [0.0] * len(vals)
    for i in idx:
        y = vals[i] * ppu_y
        near = [(px, py) for (px, py) in placed if abs(py - y) < d]
        cands = [0.0]
        for px, py in near:
            dx = math.sqrt(max(d * d - (py - y) ** 2, 0.0))
            cands.append(px + dx)
            cands.append(px - dx)
        cands.sort(key=lambda c: (abs(c), c))
        chosen = 0.0
        for c in cands:
            if all((c - px) ** 2 + (y - py) ** 2 >= d * d - 1e-6 for px, py in near):
                chosen = c
                break
        placed.append((chosen, y))
        offs[i] = chosen / ppu_x
    return offs


fig = go.Figure()
layout = dict(width=W, height=H, margin=dict(l=0, r=0, t=0, b=0), paper_bgcolor="white",
              plot_bgcolor="rgba(0,0,0,0)", showlegend=False, barmode="overlay")
annotations = []


def ann(x, y, text, size, color, family, xanchor="left", yanchor="middle"):
    annotations.append(dict(x=x / W, y=1 - y / H, xref="paper", yref="paper", text=text,
                            showarrow=False, xanchor=xanchor, yanchor=yanchor,
                            font=dict(size=size, color=color, family=family)))


def add_section(offset, st, data, means, lo, hi, yranges, yticks, xlabels, first_legend):
    for k in range(10):
        ax = offset + k + 1
        xid = "x" if ax == 1 else f"x{ax}"
        yid = "y" if ax == 1 else f"y{ax}"
        row, col = k // 2, k % 2
        L = st["L0"] + st["pitch"] * row
        x0, x1 = st["cols"][col]
        top, bot = L + st["top"], L + st["bottom"]
        yr = yranges[k]
        layout["xaxis" if ax == 1 else f"xaxis{ax}"] = dict(
            domain=[x0 / W, x1 / W], range=[0.5, 5.5], anchor=yid, showline=True,
            linecolor=st["axis_color"], linewidth=st["axis_width"], ticks="inside", ticklen=3,
            tickwidth=1, tickcolor=st["axis_color"], tickvals=[3], ticktext=[""],
            showgrid=False, zeroline=False, fixedrange=True)
        layout["yaxis" if ax == 1 else f"yaxis{ax}"] = dict(
            domain=[1 - bot / H, 1 - top / H], range=yr, anchor=xid, showline=True,
            linecolor=st["axis_color"], linewidth=st["axis_width"], ticks="inside", ticklen=3,
            tickwidth=1, tickcolor=st["axis_color"], tickvals=yticks[k],
            ticktext=[f"{t:g}" for t in yticks[k]], ticklabelstandoff=3,
            tickfont=dict(size=st["tick_size"], color=st["tick_color"], family=TEXT_FONT),
            showgrid=False, zeroline=False, fixedrange=True)
        # CI boxes
        fig.add_trace(go.Bar(x=GROUP_X, y=[h - l for h, l in zip(hi[k], lo[k])], base=lo[k],
                             width=0.3, marker=dict(color=st["box_color"], line=dict(width=0)),
                             xaxis=xid, yaxis=yid, hoverinfo="skip"))
        ppu_y = (bot - top) / (yr[1] - yr[0])
        ppu_x = (x1 - x0) / 5.0
        for g in range(5):
            vals = data[k][g]
            offs = swarm_offsets(vals, ppu_y, ppu_x, st["dot_gap"])
            fig.add_trace(go.Scatter(x=[GROUP_X[g] + o for o in offs], y=vals, mode="markers",
                                     marker=dict(size=st["pt_size"], color=GROUP_COLORS[g],
                                                 line=dict(width=0)),
                                     xaxis=xid, yaxis=yid, name=GROUPS[g], hoverinfo="y"))
        fig.add_trace(go.Scatter(x=GROUP_X, y=means[k], mode="markers",
                                 marker=dict(size=st["mean_size"], color="#FF0000", line=dict(width=0)),
                                 xaxis=xid, yaxis=yid, name="mean", hoverinfo="y"))
        # titles
        ann(st["num_x"][k], L + st["title_dy"], NUMERALS[k], st["title_size"], "#111111", TITLE_FONT)
        ann(st["title_x"][k], L + st["title_dy"], PANEL_TITLES[k], st["title_size"], "#111111", TITLE_FONT)
        # legend
        labels = [first_legend[k]] + GROUPS[1:]
        for g in range(5):
            ann(st["leg_dot"][col][g], L, "\u25CF", st["leg_dot_size"], GROUP_COLORS[g], TEXT_FONT,
                xanchor="center")
            ann(st["leg_txt"][col][g], L, labels[g], st["leg_size"], st["label_color"], TEXT_FONT)
        # x label
        ann((x0 + x1) / 2, L + st["xlabel_dy"], xlabels[k], st["xlabel_size"], st["label_color"],
            TEXT_FONT, xanchor="center")


add_section(0, SC_STYLE, SC_DATA, sc_means, sc_ci_low, sc_ci_high, sc_yrange, sc_yticks,
            SC_XLABELS, SC_FIRST_LEGEND)
add_section(10, FC_STYLE, FC_DATA, fc_means, fc_ci_low, fc_ci_high, fc_yrange, fc_yticks,
            FC_XLABELS, ["Healthy control"] * 10)

ann(29, 1, "a. Structural connectivity", 42, "#000000", TITLE_FONT, yanchor="top")
ann(29, 1359, "b. Functional connectivity", 42, "#000000", TITLE_FONT, yanchor="top")

layout["annotations"] = annotations
fig.update_layout(**layout)
fig.write_html("out.html")
